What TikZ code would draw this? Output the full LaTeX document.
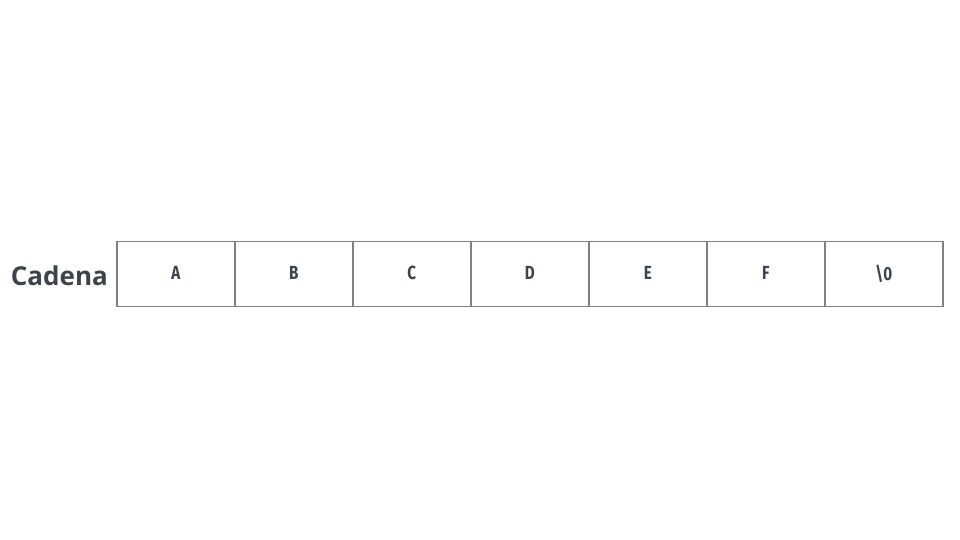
\documentclass[tikz,border=0pt]{standalone}
\usepackage{fontspec}
\setmainfont{Open Sans}
\newfontfamily\cellfont{Fira Sans}
\definecolor{txt}{HTML}{3D434B}
\definecolor{bord}{HTML}{808080}
\begin{document}
\begin{tikzpicture}[x=1pt,y=1pt,
  cellbox/.style={draw=bord,line width=1.6pt,minimum width=118pt,minimum height=65pt,inner sep=0pt,anchor=south west,text=txt,font=\cellfont\bfseries\fontsize{19}{21}\selectfont},
  lbl/.style={text=txt,font=\bfseries\fontsize{26}{29}\selectfont,anchor=east,inner sep=0pt}]
\useasboundingbox (0,0) rectangle (960,540);
\node[cellbox] (c1) at (116,232.5) {\raisebox{3pt}{\scalebox{0.8}[1]{A}}};
\node[cellbox] (c2) at (234,232.5) {\raisebox{3pt}{\scalebox{0.8}[1]{B}}};
\node[cellbox] (c3) at (352,232.5) {\raisebox{3pt}{\scalebox{0.8}[1]{C}}};
\node[cellbox] (c4) at (470,232.5) {\raisebox{3pt}{\scalebox{0.8}[1]{D}}};
\node[cellbox] (c5) at (588,232.5) {\raisebox{3pt}{\scalebox{0.8}[1]{E}}};
\node[cellbox] (c6) at (706,232.5) {\raisebox{3pt}{\scalebox{0.8}[1]{F}}};
\node[cellbox] (c7) at (824,232.5) {\raisebox{3pt}{\scalebox{0.8}[1]{\textbackslash 0}}};
\node[lbl] (cad) at (108,264) {Cadena};
\end{tikzpicture}
\end{document}
